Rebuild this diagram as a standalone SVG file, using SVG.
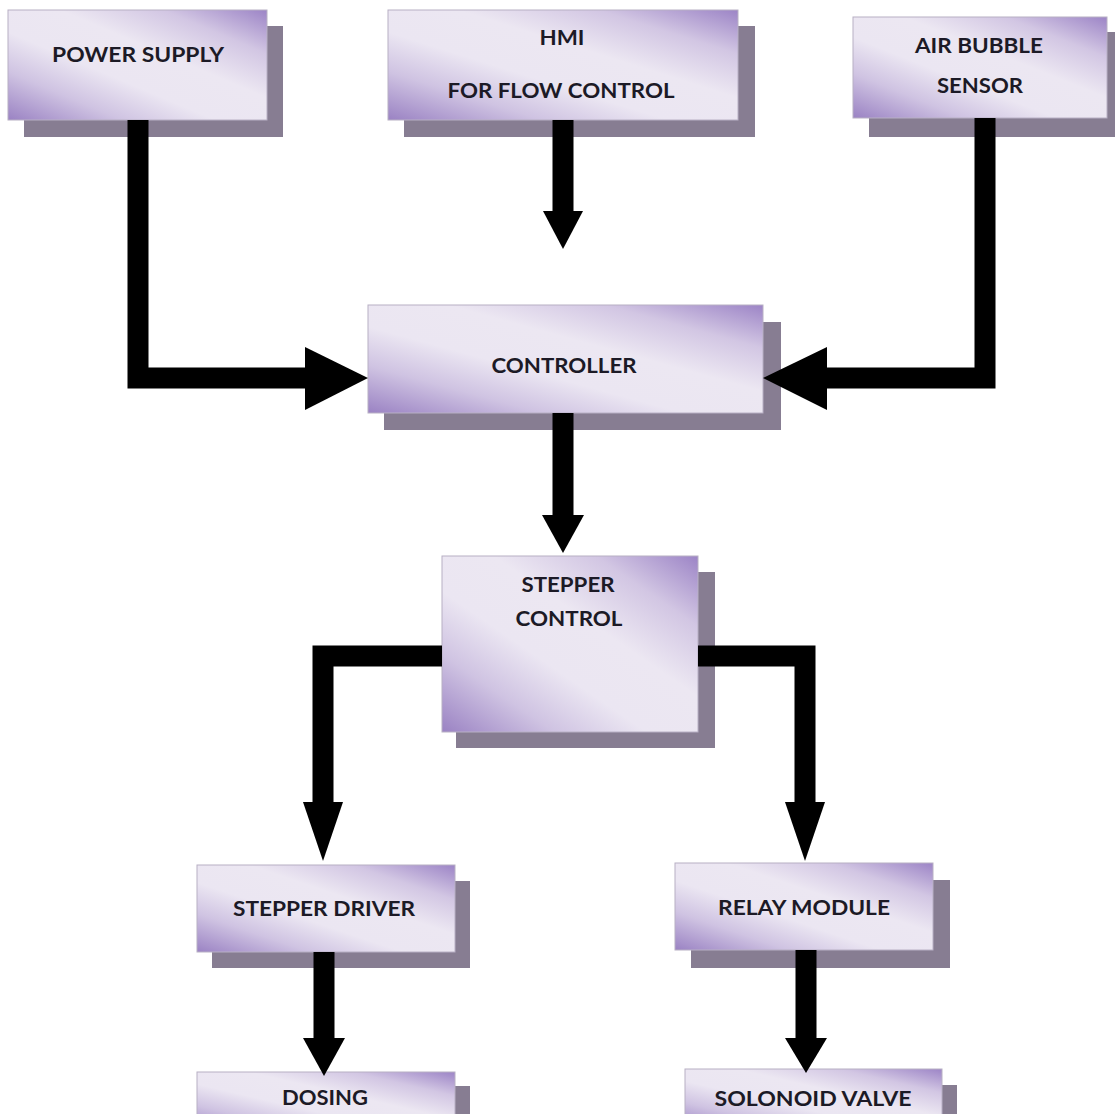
<svg xmlns="http://www.w3.org/2000/svg" width="1115" height="1114" viewBox="0 0 1115 1114">
<defs>
<linearGradient id="fill" x1="0" y1="1" x2="1" y2="0">
<stop offset="0" stop-color="#9a82c3"/>
<stop offset="0.22" stop-color="#cfc3e2"/>
<stop offset="0.4" stop-color="#ebe6f2"/>
<stop offset="0.6" stop-color="#ece7f2"/>
<stop offset="0.8" stop-color="#d2c6e3"/>
<stop offset="1" stop-color="#9c84c6"/>
</linearGradient>
<style>
.sh{fill:#877d92}
.bx{fill:url(#fill);stroke:#b8b0c4;stroke-width:1}
.t{font-family:Lato,"Open Sans","Liberation Sans",sans-serif;font-weight:700;font-size:21px;fill:#1c1a26;text-anchor:middle}
.ln{fill:none;stroke:#000;stroke-width:21;stroke-linejoin:miter}
.hd{fill:#000}
</style>
</defs>
<rect width="1115" height="1114" fill="#fff"/>
<g id="power-supply">
<rect class="sh" x="24" y="26" width="259" height="111"/>
<rect class="bx" x="8" y="10" width="259" height="110"/>
<text class="t" x="138" y="62" textLength="172" lengthAdjust="spacingAndGlyphs">POWER SUPPLY</text>
</g>
<g id="hmi">
<rect class="sh" x="404" y="26" width="351" height="111"/>
<rect class="bx" x="388" y="10" width="350" height="110"/>
<text class="t" x="562" y="45" textLength="45" lengthAdjust="spacingAndGlyphs">HMI</text>
<text class="t" x="561" y="98" textLength="227" lengthAdjust="spacingAndGlyphs">FOR FLOW CONTROL</text>
</g>
<g id="air-bubble-sensor">
<rect class="sh" x="869" y="32" width="254" height="105"/>
<rect class="bx" x="853" y="17" width="254" height="101"/>
<text class="t" x="979" y="53" textLength="128" lengthAdjust="spacingAndGlyphs">AIR BUBBLE</text>
<text class="t" x="980" y="93" textLength="86" lengthAdjust="spacingAndGlyphs">SENSOR</text>
</g>
<g id="controller">
<rect class="sh" x="384" y="322" width="397" height="108"/>
<rect class="bx" x="368" y="305" width="395" height="108"/>
<text class="t" x="564" y="373" textLength="145" lengthAdjust="spacingAndGlyphs">CONTROLLER</text>
</g>
<g id="stepper-control">
<rect class="sh" x="456" y="572" width="259" height="176"/>
<rect class="bx" x="442" y="556" width="256" height="176"/>
<text class="t" x="568" y="592" textLength="93" lengthAdjust="spacingAndGlyphs">STEPPER</text>
<text class="t" x="569" y="626" textLength="107" lengthAdjust="spacingAndGlyphs">CONTROL</text>
</g>
<g id="stepper-driver">
<rect class="sh" x="212" y="881" width="258" height="87"/>
<rect class="bx" x="197" y="865" width="258" height="87"/>
<text class="t" x="324" y="916" textLength="182" lengthAdjust="spacingAndGlyphs">STEPPER DRIVER</text>
</g>
<g id="relay-module">
<rect class="sh" x="691" y="880" width="259" height="88"/>
<rect class="bx" x="675" y="863" width="258" height="87"/>
<text class="t" x="804" y="915" textLength="172" lengthAdjust="spacingAndGlyphs">RELAY MODULE</text>
</g>
<g id="dosing">
<rect class="sh" x="212" y="1086" width="258" height="60"/>
<rect class="bx" x="197" y="1072" width="258" height="60"/>
<text class="t" x="325" y="1105" textLength="86" lengthAdjust="spacingAndGlyphs">DOSING</text>
</g>
<g id="solonoid-valve">
<rect class="sh" x="700" y="1085" width="257" height="60"/>
<rect class="bx" x="685" y="1069" width="257" height="60"/>
<text class="t" x="813" y="1106" textLength="197" lengthAdjust="spacingAndGlyphs">SOLONOID VALVE</text>
</g>
<g id="connectors">
<path class="ln" d="M138,120 V378 H306"/>
<polygon class="hd" points="305,347 368,378 305,410"/>
<path class="ln" d="M563,120 V212"/>
<polygon class="hd" points="543,211 583,211 563,249"/>
<path class="ln" d="M985,118 V378 H826"/>
<polygon class="hd" points="827,347 763,378 827,410"/>
<path class="ln" d="M563,413 V516"/>
<polygon class="hd" points="542,515 584,515 563,553"/>
<path class="ln" d="M442,656 H323 V803"/>
<polygon class="hd" points="303,802 343,802 323,861"/>
<path class="ln" d="M698,656 H805 V803"/>
<polygon class="hd" points="785,802 825,802 805,861"/>
<path class="ln" d="M324,952 V1039"/>
<polygon class="hd" points="303,1038 345,1038 324,1076"/>
<path class="ln" d="M806,950 V1039"/>
<polygon class="hd" points="785,1038 827,1038 806,1073"/>
</g>
</svg>
